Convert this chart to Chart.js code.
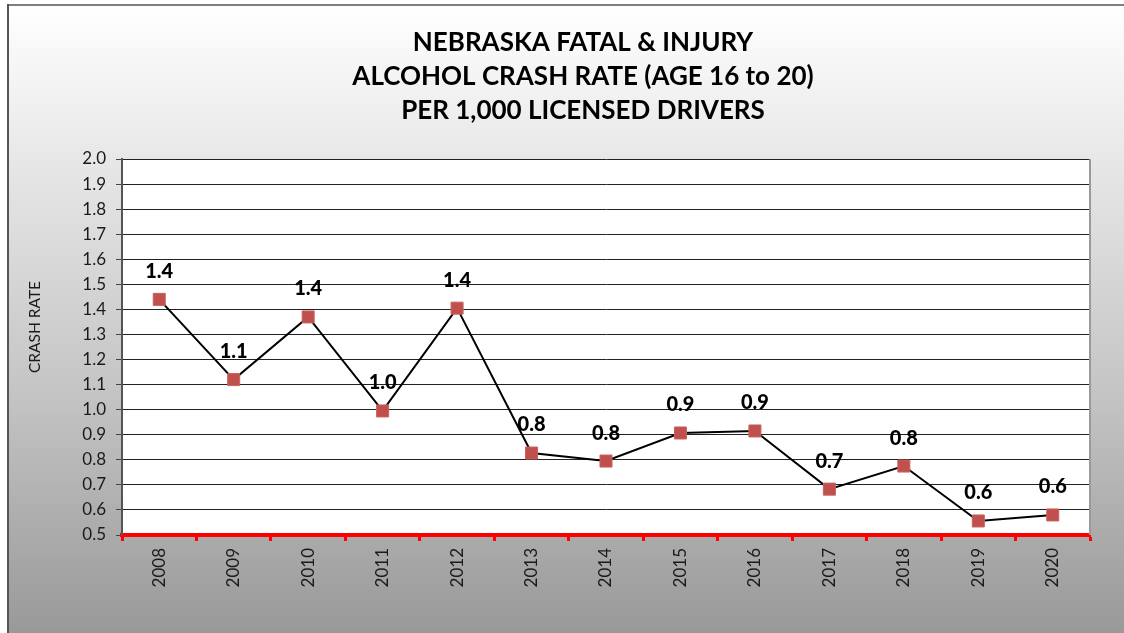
<!DOCTYPE html>
<html>
<head>
<meta charset="utf-8">
<script src="https://cdn.jsdelivr.net/npm/chart.js@4/dist/chart.umd.min.js"></script>
<style>
  html, body { margin: 0; padding: 0; background: #fff; }
  #wrap { position: relative; width: 1124px; height: 633px; }
</style>
</head>
<body>
<div id="wrap"><canvas id="c" width="1124" height="633"></canvas></div>
<script>
const years = ['2008','2009','2010','2011','2012','2013','2014','2015','2016','2017','2018','2019','2020'];
const crashRate = [1.44, 1.12, 1.37, 0.995, 1.405, 0.827, 0.795, 0.907, 0.915, 0.683, 0.775, 0.556, 0.58];
const titleLines = ['NEBRASKA FATAL & INJURY', 'ALCOHOL CRASH RATE (AGE 16 to 20)', 'PER 1,000 LICENSED DRIVERS'];
const yAxisTitle = 'CRASH RATE';
const yMin = 0.5, yMax = 2.0, yStep = 0.1;

const FONT = 'Lato, "Open Sans", "Liberation Sans", sans-serif';

const bgPlugin = {
  id: 'bg',
  beforeDraw(chart) {
    const ctx = chart.ctx, W = chart.width, H = chart.height;
    ctx.save();
    ctx.fillStyle = '#ffffff';
    ctx.fillRect(0, 0, W, H);
    const g = ctx.createLinearGradient(0, 5, 0, H);
    g.addColorStop(0, '#ffffff');
    g.addColorStop(0.23, '#e9e9e9');
    g.addColorStop(0.63, '#c3c3c3');
    g.addColorStop(1, '#999999');
    ctx.fillStyle = g;
    ctx.fillRect(8, 5, W - 8, H - 5);
    ctx.fillStyle = '#7f7f7f';
    ctx.fillRect(7, 4, W - 7, 2);
    ctx.fillStyle = '#555555';
    ctx.fillRect(7, 4, 2, H - 4);
    const a = chart.chartArea;
    ctx.fillStyle = '#ffffff';
    ctx.fillRect(a.left, a.top, a.right - a.left, a.bottom - a.top);
    ctx.restore();
  },
  afterDraw(chart) {
    const ctx = chart.ctx, a = chart.chartArea;
    ctx.save();
    ctx.strokeStyle = '#9a9a9a';
    ctx.lineWidth = 2;
    ctx.beginPath();
    ctx.moveTo(a.right, a.top);
    ctx.lineTo(a.right, a.bottom);
    ctx.stroke();
    // chart title
    ctx.fillStyle = '#000';
    ctx.font = 'bold 26px ' + FONT;
    ctx.textAlign = 'center';
    ctx.textBaseline = 'middle';
    titleLines.forEach((t, i) => ctx.fillText(t, 583, 43 + i * 34));
    // y axis title
    ctx.save();
    ctx.translate(35, 327);
    ctx.rotate(-Math.PI / 2);
    ctx.font = '15.5px ' + FONT;
    ctx.fillStyle = '#1a1a1a';
    ctx.fillText(yAxisTitle, 0, 0);
    ctx.restore();
    ctx.restore();
  }
};

const labelPlugin = {
  id: 'pointLabels',
  afterDatasetsDraw(chart) {
    const ctx = chart.ctx;
    const meta = chart.getDatasetMeta(0);
    ctx.save();
    ctx.font = '900 20px ' + FONT;
    ctx.fillStyle = '#000';
    ctx.textAlign = 'center';
    ctx.textBaseline = 'middle';
    meta.data.forEach((pt, i) => {
      ctx.fillText(crashRate[i].toFixed(1), pt.x, pt.y - 28);
    });
    ctx.restore();
  }
};

new Chart(document.getElementById('c'), {
  type: 'line',
  data: {
    labels: years,
    datasets: [{
      data: crashRate,
      borderColor: '#000000',
      borderWidth: 2,
      tension: 0,
      pointStyle: 'rect',
      pointRadius: 8.5,
      pointBackgroundColor: '#C0504D',
      pointBorderColor: '#C8625F',
      pointBorderWidth: 1
    }]
  },
  options: {
    responsive: false,
    animation: false,
    events: [],
    layout: { padding: { left: 0, right: 34, top: 159, bottom: 0 } },
    plugins: {
      legend: { display: false },
      tooltip: { enabled: false },
      title: { display: false }
    },
    scales: {
      x: {
        offset: true,
        grid: {
          offset: true,
          drawOnChartArea: false,
          drawTicks: true,
          tickLength: 6,
          tickColor: '#ff0000',
          tickWidth: 3
        },
        border: { color: '#ff0000', width: 4 },
        ticks: {
          minRotation: 90,
          maxRotation: 90,
          padding: 7,
          color: '#1a1a1a',
          font: { family: FONT, size: 17 }
        },
        afterFit(scale) { scale.height = 98; }
      },
      y: {
        min: yMin,
        max: yMax,
        grid: {
          color: '#222222',
          lineWidth: 1,
          tickLength: 6,
          tickColor: '#444444'
        },
        border: { color: '#555555', width: 2 },
        ticks: {
          stepSize: yStep,
          padding: 10,
          color: '#1a1a1a',
          font: { family: FONT, size: 17 },
          callback: (v) => Number(v).toFixed(1)
        },
        title: { display: false },
        afterFit(scale) { scale.width = 122; }
      }
    }
  },
  plugins: [bgPlugin, labelPlugin]
});
</script>
</body>
</html>
